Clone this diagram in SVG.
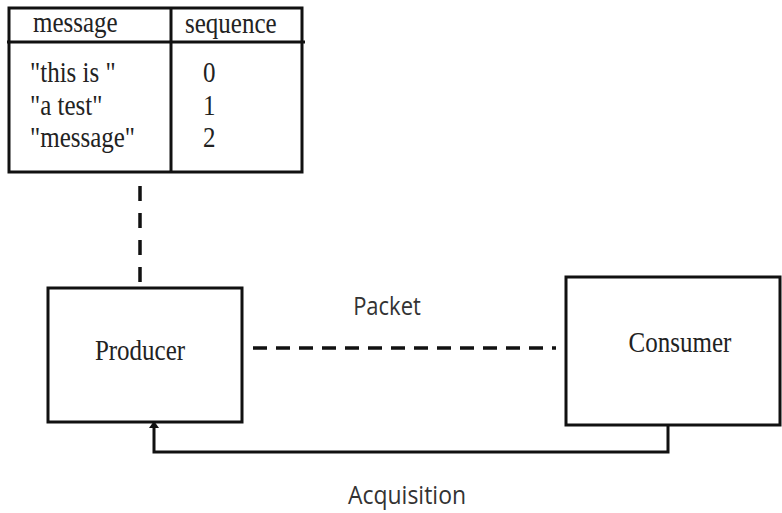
<svg xmlns="http://www.w3.org/2000/svg" width="782" height="513" viewBox="0 0 782 513">
<defs>
<style>
.box{fill:#fff;stroke:#111;stroke-width:3}
.ln{fill:none;stroke:#111;stroke-width:3}
.serif{font-family:"Liberation Serif","DejaVu Serif",serif;font-size:25px;fill:#222}
.sans{font-family:"Open Sans","Noto Sans","DejaVu Sans",sans-serif;fill:#333}
.dash{fill:none;stroke:#111;stroke-width:3.5}
</style>
</defs>
<rect width="782" height="513" fill="#fff"/>
<g id="table">
<rect class="box" x="9" y="8" width="293" height="164"/>
<line class="ln" x1="7" y1="42" x2="305" y2="42"/>
<line class="ln" x1="171" y1="8" x2="171" y2="172"/>
<text class="serif" transform="translate(33,32) scale(1,1.18)">message</text>
<text class="serif" transform="translate(185,33) scale(1,1.18)">sequence</text>
<text class="serif" transform="translate(30,82) scale(1,1.18)">"this is "</text>
<text class="serif" transform="translate(30,115) scale(1,1.18)">"a test"</text>
<text class="serif" transform="translate(30,147) scale(1,1.18)">"message"</text>
<text class="serif" transform="translate(203,82) scale(1,1.18)">0</text>
<text class="serif" transform="translate(203,115) scale(1,1.18)">1</text>
<text class="serif" transform="translate(203,147) scale(1,1.18)">2</text>
</g>
<g id="producer">
<rect class="box" x="48" y="288" width="194" height="134"/>
<text class="serif" text-anchor="middle" transform="translate(140,360) scale(1,1.15)" font-size="24">Producer</text>
</g>
<g id="consumer">
<rect class="box" x="566" y="277" width="214" height="148"/>
<text class="serif" text-anchor="middle" transform="translate(680,352) scale(1,1.15)" font-size="24">Consumer</text>
</g>
<g id="connectors">
<line class="dash" x1="140" y1="186" x2="140" y2="283" stroke-dasharray="15 12"/>
<line class="dash" x1="253" y1="348" x2="556" y2="348" stroke-dasharray="14 9"/>
<path class="ln" d="M668,425 V452 H154 V426"/>
<path d="M149,428 L154,421 L159,428 Z" fill="#111"/>
<text class="sans" text-anchor="middle" font-size="22" transform="translate(387,315) scale(1,1.18)">Packet</text>
<text class="sans" text-anchor="middle" font-size="23" transform="translate(407,504) scale(1,1.12)">Acquisition</text>
</g>
</svg>
